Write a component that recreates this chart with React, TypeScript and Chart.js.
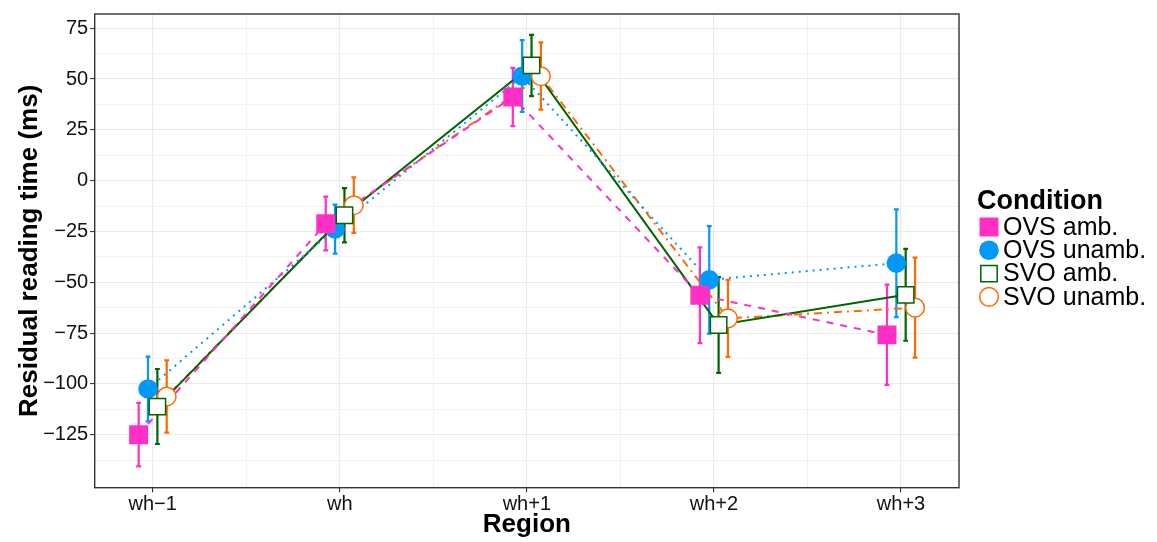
import { useEffect, useRef } from 'react';
import { Chart, registerables } from 'chart.js';

Chart.register(...registerables);

// Regions along the sentence
const regions = ['wh−1', 'wh', 'wh+1', 'wh+2', 'wh+3'];

// Mean residual reading times (ms) with lower / upper error-bar limits
const ovsAmbMean = [-125.0, -21.2, 41.2, -56.4, -75.9];
const ovsAmbLow = [-140.6, -34.3, 26.8, -80.0, -100.5];
const ovsAmbHigh = [-109.4, -7.9, 55.5, -32.8, -51.2];

const ovsUnambMean = [-102.5, -23.8, 51.4, -48.8, -40.6];
const ovsUnambLow = [-118.5, -35.9, 33.8, -75.3, -67.2];
const ovsUnambHigh = [-86.6, -11.8, 69.1, -22.4, -14.1];

const svoAmbMean = [-111.2, -17.0, 56.7, -71.0, -56.2];
const svoAmbLow = [-129.6, -30.4, 41.6, -94.6, -78.8];
const svoAmbHigh = [-92.7, -3.7, 71.7, -47.5, -33.6];

const svoUnambMean = [-106.2, -12.1, 51.4, -67.8, -62.5];
const svoUnambLow = [-124.0, -25.7, 34.9, -86.7, -87.1];
const svoUnambHigh = [-88.4, 1.6, 68.0, -48.8, -37.9];

// Axis ticks
const yMajorTicks = [-125, -100, -75, -50, -25, 0, 25, 50, 75];
const yMinorTicks = [-137.5, -112.5, -87.5, -62.5, -37.5, -12.5, 12.5, 37.5, 62.5];
const xMinorTicks = [0.5, 1.5, 2.5, 3.5];

const FONT = '"Liberation Sans", Arial, Helvetica, sans-serif';

type Series = {
  label: string;
  mean: number[];
  low: number[];
  high: number[];
  color: string;
  fill: string;
  shape: 'rect' | 'circle';
  radius: number;
  borderWidth: number;
  dash: number[];
  dodge: number;
  layer: number;
};

const series: Series[] = [
  {
    label: 'OVS amb.', mean: ovsAmbMean, low: ovsAmbLow, high: ovsAmbHigh,
    color: '#FF2FC8', fill: '#FF2FC8', shape: 'rect', radius: 13.4, borderWidth: 0,
    dash: [7, 7], dodge: -0.075, layer: 2,
  },
  {
    label: 'OVS unamb.', mean: ovsUnambMean, low: ovsUnambLow, high: ovsUnambHigh,
    color: '#0099FA', fill: '#0099FA', shape: 'circle', radius: 9.8, borderWidth: 0,
    dash: [2, 5], dodge: -0.025, layer: 4,
  },
  {
    label: 'SVO amb.', mean: svoAmbMean, low: svoAmbLow, high: svoAmbHigh,
    color: '#006400', fill: '#FFFFFF', shape: 'rect', radius: 11.6, borderWidth: 1.5,
    dash: [], dodge: 0.025, layer: 1,
  },
  {
    label: 'SVO unamb.', mean: svoUnambMean, low: svoUnambLow, high: svoUnambHigh,
    color: '#FF6A00', fill: '#FFFFFF', shape: 'circle', radius: 9.3, borderWidth: 1.5,
    dash: [2, 5, 8, 5], dodge: 0.075, layer: 3,
  },
];

const CAP_HALF = 0.013;

const errorBars = {
  id: 'errorBars',
  beforeDatasetsDraw(chart: any) {
    const { ctx, scales } = chart;
    const x = scales.x;
    const y = scales.y;
    ctx.save();
    ctx.lineWidth = 2.2;
    ctx.lineCap = 'butt';
    for (const s of series) {
      ctx.strokeStyle = s.color;
      s.low.forEach((lo, i) => {
        const hi = s.high[i];
        const cx = x.getPixelForValue(i + s.dodge);
        const l = x.getPixelForValue(i + s.dodge - CAP_HALF);
        const r = x.getPixelForValue(i + s.dodge + CAP_HALF);
        const yl = y.getPixelForValue(lo);
        const yh = y.getPixelForValue(hi);
        ctx.beginPath();
        ctx.moveTo(cx, yl);
        ctx.lineTo(cx, yh);
        ctx.moveTo(l, yl);
        ctx.lineTo(r, yl);
        ctx.moveTo(l, yh);
        ctx.lineTo(r, yh);
        ctx.stroke();
      });
    }
    ctx.restore();
  },
};

const panelFrame = {
  id: 'panelFrame',
  afterDatasetsDraw(chart: any) {
    const { ctx, chartArea: a } = chart;
    ctx.save();
    ctx.strokeStyle = '#333333';
    ctx.lineWidth = 1.4;
    ctx.strokeRect(a.left, a.top, a.right - a.left, a.bottom - a.top);
    ctx.restore();
  },
};

const titlesAndLegend = {
  id: 'titlesAndLegend',
  afterDraw(chart: any) {
    const { ctx, chartArea: a } = chart;
    ctx.save();
    ctx.fillStyle = '#000000';

    // axis titles
    ctx.font = `bold 26px ${FONT}`;
    ctx.textAlign = 'center';
    ctx.textBaseline = 'alphabetic';
    ctx.fillText('Region', (a.left + a.right) / 2, 532);

    ctx.save();
    ctx.translate(37, (a.top + a.bottom) / 2);
    ctx.rotate(-Math.PI / 2);
    ctx.fillText('Residual reading time (ms)', 0, 0);
    ctx.restore();

    // legend
    ctx.textAlign = 'left';
    ctx.font = `bold 27px ${FONT}`;
    ctx.fillText('Condition', 977, 209);

    ctx.font = `25px ${FONT}`;
    ctx.textBaseline = 'middle';
    const keyX = 989;
    series.forEach((s, k) => {
      const cy = 227 + k * 23.3;
      ctx.beginPath();
      if (s.shape === 'rect') {
        const h = s.radius * Math.SQRT1_2;
        ctx.rect(keyX - h, cy - h, 2 * h, 2 * h);
      } else {
        ctx.arc(keyX, cy, s.radius, 0, Math.PI * 2);
      }
      ctx.fillStyle = s.fill;
      ctx.fill();
      if (s.borderWidth > 0) {
        ctx.lineWidth = s.borderWidth;
        ctx.strokeStyle = s.color;
        ctx.stroke();
      }
      ctx.fillStyle = '#000000';
      ctx.fillText(s.label, 1003, cy + 1);
    });
    ctx.restore();
  },
};

export default function App() {
  const canvasRef = useRef<HTMLCanvasElement | null>(null);

  useEffect(() => {
    const canvas = canvasRef.current;
    if (!canvas) return;

    const lineSets = series.map((s) => ({
      type: 'line' as const,
      label: s.label + ' line',
      data: s.mean.map((v, i) => ({ x: i + s.dodge, y: v })),
      borderColor: s.color,
      borderWidth: 2,
      borderDash: s.dash,
      pointRadius: 0,
      fill: false,
      tension: 0,
      order: 10,
    }));

    const pointSets = series.map((s) => ({
      type: 'scatter' as const,
      label: s.label,
      data: s.mean.map((v, i) => ({ x: i + s.dodge, y: v })),
      showLine: false,
      pointStyle: s.shape,
      pointRadius: s.radius,
      pointHoverRadius: s.radius,
      pointBackgroundColor: s.fill,
      pointBorderColor: s.color,
      pointBorderWidth: s.borderWidth,
      order: s.layer,
    }));

    const chart = new Chart(canvas, {
      type: 'scatter',
      data: { datasets: [...lineSets, ...pointSets] as any },
      options: {
        responsive: false,
        animation: false,
        events: [],
        devicePixelRatio: 1,
        layout: { padding: { left: 0, top: 10.7, right: 198, bottom: 0 } },
        plugins: {
          legend: { display: false },
          tooltip: { enabled: false },
          title: { display: false },
        },
        scales: {
          x: {
            type: 'linear',
            min: -0.31,
            max: 4.31,
            afterBuildTicks: (scale: any) => {
              const vals = [...regions.map((_, i) => i), ...xMinorTicks].sort((p, q) => p - q);
              scale.ticks = vals.map((v) => ({ value: v }));
            },
            afterFit: (scale: any) => {
              scale.height = 542 - 487.7;
            },
            grid: {
              color: (c: any) => (Number.isInteger(c.tick?.value) ? '#EBEBEB' : '#F1F1F1'),
              lineWidth: (c: any) => (Number.isInteger(c.tick?.value) ? 1.1 : 0.9),
              drawTicks: true,
              tickLength: 4.5,
              tickWidth: 1.1,
              tickColor: (c: any) => (Number.isInteger(c.tick?.value) ? '#333333' : 'rgba(0,0,0,0)'),
            },
            border: { display: false },
            ticks: {
              autoSkip: false,
              maxRotation: 0,
              padding: 0,
              color: '#111111',
              font: { family: FONT, size: 20 },
              callback: (v: any) => (Number.isInteger(v) ? regions[v] : ''),
            },
          },
          y: {
            type: 'linear',
            min: -151.1,
            max: 82.0,
            afterBuildTicks: (scale: any) => {
              const vals = [...yMajorTicks, ...yMinorTicks].sort((p, q) => p - q);
              scale.ticks = vals.map((v) => ({ value: v }));
            },
            afterFit: (scale: any) => {
              scale.width = 94.7;
            },
            grid: {
              color: (c: any) => (yMajorTicks.includes(c.tick?.value) ? '#EBEBEB' : '#F1F1F1'),
              lineWidth: (c: any) => (yMajorTicks.includes(c.tick?.value) ? 1.1 : 0.9),
              drawTicks: true,
              tickLength: 4.5,
              tickWidth: 1.1,
              tickColor: (c: any) => (yMajorTicks.includes(c.tick?.value) ? '#333333' : 'rgba(0,0,0,0)'),
            },
            border: { display: false },
            ticks: {
              autoSkip: false,
              padding: 2,
              color: '#111111',
              font: { family: FONT, size: 20 },
              callback: (v: any) =>
                yMajorTicks.includes(v) ? (v < 0 ? '−' + Math.abs(v) : String(v)) : '',
            },
          },
        },
      },
      plugins: [errorBars, panelFrame, titlesAndLegend],
    });

    return () => chart.destroy();
  }, []);

  return (
    <div style={{ position: 'fixed', left: 0, top: 0, width: 1157, height: 542, background: '#FFFFFF' }}>
      <canvas ref={canvasRef} width={1157} height={542} style={{ display: 'block' }} />
    </div>
  );
}
